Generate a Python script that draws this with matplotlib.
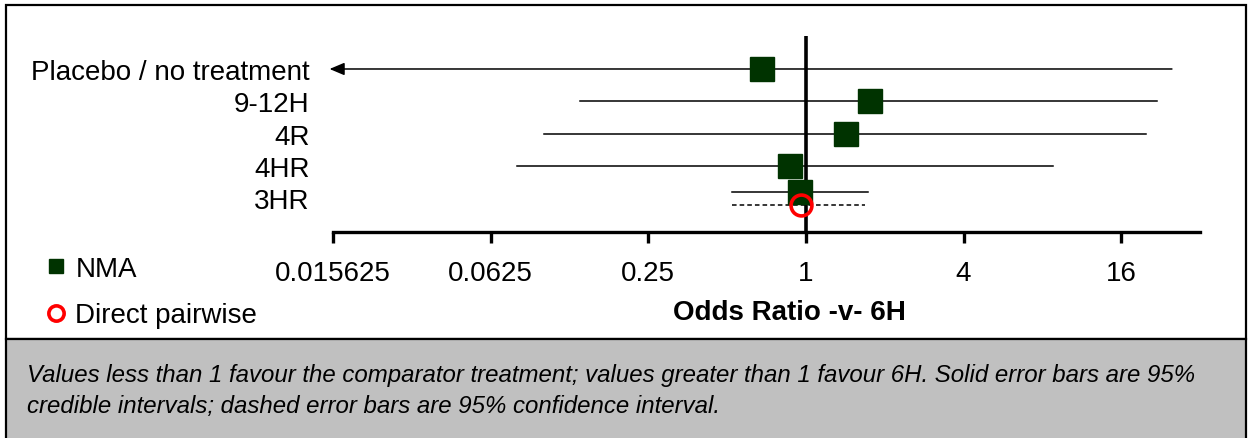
import matplotlib
matplotlib.use("Agg")
import matplotlib.pyplot as plt
from matplotlib.patches import Rectangle
from matplotlib.lines import Line2D

plt.rcParams["font.family"] = ["Liberation Sans", "DejaVu Sans"]

# data
treatments = ["Placebo / no treatment", "9-12H", "4R", "4HR", "3HR"]
nma_or     = [0.68, 1.75, 1.42, 0.87, 0.95]
nma_lo     = [0.005, 0.137, 0.10, 0.079, 0.52]   # placebo lower bound runs off the scale
nma_hi     = [25.0, 22.0, 19.9, 8.8, 1.72]
direct_trt = ["3HR"]
direct_or  = [0.96]
direct_lo  = [0.52]
direct_hi  = [1.68]

tick_vals   = [0.015625, 0.0625, 0.25, 1, 4, 16]
tick_labels = ["0.015625", "0.0625", "0.25", "1", "4", "16"]
caption = ("Values less than 1 favour the comparator treatment; values greater than 1 favour 6H. "
           "Solid error bars are 95%\ncredible intervals; dashed error bars are 95% confidence interval.")

W, H = 1250, 439
fig = plt.figure(figsize=(W / 100, H / 100), dpi=100)

def fx(px): return px / W
def fy(py): return 1 - py / H

# frame and grey caption panel (behind the axes)
fig.patches.append(Rectangle((fx(6), fy(340)), fx(1240), 334 / H, transform=fig.transFigure,
                             facecolor="white", edgecolor="black", lw=1.6, zorder=-10))
fig.patches.append(Rectangle((fx(6), fy(441)), fx(1240), 101 / H, transform=fig.transFigure,
                             facecolor="#c0c0c0", edgecolor="black", lw=1.6, zorder=-10))

ax = fig.add_axes([fx(333), fy(233), fx(1200 - 333), 196 / H])
ax.patch.set_visible(False)
ax.set_xscale("log", base=2)
xmin, xmax = 2 ** -6, 2 ** 5
ax.set_xlim(xmin, xmax)
ax.set_ylim(-1.04, 5.02)

n = len(treatments)
row_y = [n - 1 - i for i in range(n)]
nma_y = [y + (0.2 if t in direct_trt else 0) for t, y in zip(treatments, row_y)]

# NMA intervals (arrow where the interval leaves the scale)
for y, lo, hi in zip(nma_y, nma_lo, nma_hi):
    if lo < xmin:
        ax.annotate("", xy=(xmin * 0.97, y), xytext=(hi, y),
                    arrowprops=dict(arrowstyle="-|>,head_length=0.9,head_width=0.38",
                                    color="black", lw=1.1, shrinkA=0, shrinkB=0),
                    annotation_clip=False)
    else:
        ax.plot([lo, hi], [y, y], color="black", lw=1.1, zorder=2)

# direct pairwise intervals
dir_y = [row_y[treatments.index(t)] - 0.2 for t in direct_trt]
for y, lo, hi in zip(dir_y, direct_lo, direct_hi):
    ax.plot([lo, hi], [y, y], color="black", lw=1.1, ls=(0, (3, 2)), zorder=2)

ax.axvline(1, color="black", lw=2.6, zorder=3)
ax.plot(nma_or, nma_y, "s", color="#003300", ms=17, zorder=4, clip_on=False)
ax.plot(direct_or, dir_y, "o", mfc="none", mec="#ff0000", mew=2.6, ms=15, zorder=5)

for s in ["top", "right", "left"]:
    ax.spines[s].set_visible(False)
ax.spines["bottom"].set_linewidth(2.4)
ax.set_xticks(tick_vals, tick_labels)
ax.minorticks_off()
ax.tick_params(axis="x", length=8, width=2.4, pad=12, labelsize=20)
ax.set_yticks(row_y, treatments)
ax.tick_params(axis="y", length=0, pad=17, labelsize=20)

fig.text(fx(789), fy(313), "Odds Ratio -v- 6H", ha="center", va="center",
         fontsize=20, fontweight="bold")

# legend
handles = [Line2D([], [], marker="s", ls="none", color="#003300", ms=10),
           Line2D([], [], marker="o", ls="none", mfc="none", mec="#ff0000", mew=2.6, ms=11)]
fig.legend(handles, ["NMA", "Direct pairwise"], loc="center left",
           bbox_to_anchor=(fx(31), fy(293)), frameon=False, fontsize=20,
           handlelength=0.8, handletextpad=0.3, labelspacing=0.75, borderpad=0)

fig.text(fx(27), fy(391), caption, ha="left", va="center", fontsize=17.3,
         style="italic", linespacing=1.4)

fig.savefig("out.png", dpi=100)
